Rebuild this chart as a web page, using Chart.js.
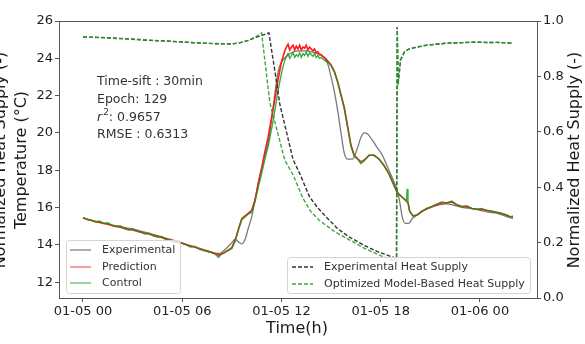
<!DOCTYPE html>
<html>
<head>
<meta charset="utf-8">
<title>Temperature and heat supply</title>
<script src="https://cdn.jsdelivr.net/npm/chart.js"></script>
<style>
    html, body { margin: 0; padding: 0; background: #fff; }
    #wrap { position: relative; width: 585px; height: 344px; }
</style>
</head>
<body>
<div id="wrap"><canvas id="tempChart"></canvas></div>

<script>
// x values are hours counted from 01-05 00:00
var tickHours = [0, 6, 12, 18, 24];
var tickLabels = ['01-05 00', '01-05 06', '01-05 12', '01-05 18', '01-06 00'];
var tempTicks = [12, 14, 16, 18, 20, 22, 24, 26];
var heatTicks = [0, 0.2, 0.4, 0.6, 0.8, 1.0];

// experimental temperature (grey)
var expHours = [0, 0.5, 1, 1.5, 2, 2.5, 3, 3.5, 4, 4.5, 5, 5.5, 6, 6.5, 7, 7.5, 8, 8.25, 8.5, 8.75,
    9, 9.2, 9.4, 9.6, 9.8, 10, 10.2, 10.4, 10.6, 10.8, 11, 11.2, 11.4, 11.6, 11.8, 12, 12.3, 12.6, 13, 13.5,
    14, 14.5, 14.8, 15, 15.2, 15.4, 15.6, 15.8, 16, 16.3, 16.6, 16.8, 17, 17.2, 17.5, 17.8, 18.1, 18.4, 18.7,
    19, 19.15, 19.3, 19.5, 19.7, 19.9, 20.2, 20.5, 21, 21.6, 22, 22.5, 23, 23.5, 24, 24.5, 25, 25.5, 26];
var expTemp = [15.45, 15.33, 15.22, 15.12, 15.02, 14.93, 14.86, 14.74, 14.62, 14.5, 14.36, 14.24, 14.1, 13.96, 13.82, 13.7, 13.56, 13.54, 13.68, 13.88,
    14.12, 14.3, 14.16, 14.05, 14.3, 14.9, 15.5, 16.4, 17.3, 18.1, 18.8, 19.5, 20.7, 22.1, 23.3, 23.8, 24.1, 24.3, 24.4, 24.4,
    24.3, 24.1, 23.7, 23.0, 22.2, 21.2, 20.0, 18.9, 18.6, 18.6, 19.2, 19.75, 20.0, 19.95, 19.6, 19.2, 18.8, 18.2, 17.6,
    16.9, 16.3, 15.5, 15.15, 15.15, 15.4, 15.6, 15.8, 16.0, 16.15, 16.2, 16.1, 16.0, 15.95, 15.85, 15.75, 15.7, 15.55, 15.4];

// model prediction (red) and control (green) share one time grid
var ctlHours = [0, 0.25, 0.5, 0.75, 1, 1.25, 1.5, 1.75, 2, 2.25, 2.5, 2.75, 3, 3.25, 3.5, 3.75, 4, 4.25, 4.5, 4.75,
    5, 5.25, 5.5, 5.75, 6, 6.25, 6.5, 6.75, 7, 7.25, 7.5, 7.75, 8, 8.2, 8.35, 8.5, 8.75, 9, 9.2, 9.4,
    9.6, 9.8, 10, 10.2, 10.4, 10.6, 10.8, 11, 11.2, 11.4, 11.6, 11.8, 12, 12.2, 12.3, 12.4, 12.5, 12.6, 12.7, 12.8, 12.9, 13, 13.1, 13.2, 13.3, 13.4,
    13.5, 13.6, 13.7, 13.8, 13.9, 14, 14.1, 14.2, 14.3, 14.4, 14.5, 14.6, 14.8, 15, 15.2, 15.4, 15.6, 15.8, 16, 16.2, 16.4, 16.6, 16.8, 17, 17.3, 17.6,
    17.9, 18.2, 18.5, 18.8, 19, 19.3, 19.55, 19.6, 19.65, 19.75, 19.95, 20.2, 20.5, 20.8, 21.1, 21.4, 21.7, 22, 22.3, 22.6,
    22.9, 23.2, 23.5, 23.8, 24.1, 24.4, 24.7, 25, 25.3, 25.6, 25.8, 26];
var ctlTemp = [15.45, 15.38, 15.32, 15.22, 15.28, 15.15, 15.18, 15.05, 14.98, 15.02, 14.88, 14.8, 14.85, 14.72, 14.68, 14.58, 14.62, 14.48, 14.42, 14.45,
    14.3, 14.22, 14.18, 14.12, 14.08, 14.0, 13.88, 13.92, 13.78, 13.7, 13.65, 13.58, 13.5, 13.32, 13.5, 13.55, 13.68, 13.8, 14.2, 14.8,
    15.35, 15.5, 15.65, 15.75, 16.3, 17.1, 17.8, 18.6, 19.3, 20.2, 21.2, 22.3, 23.2, 23.9, 24.1, 24.25, 24.0, 24.15, 24.3, 24.05, 24.2, 24.1, 24.3, 24.05, 24.25, 24.15,
    24.35, 24.1, 24.3, 24.2, 24.1, 24.25, 24.05, 24.15, 24.0, 24.05, 23.95, 23.9, 23.8, 23.6, 23.25, 22.7, 22.0, 21.3, 20.3, 19.3, 18.75, 18.6, 18.35, 18.5, 18.8, 18.8,
    18.6, 18.25, 17.8, 17.2, 16.8, 16.55, 16.35, 17.0, 16.3, 15.8, 15.55, 15.6, 15.8, 15.95, 16.05, 16.2, 16.3, 16.25, 16.35, 16.15,
    16.05, 16.1, 15.95, 15.9, 15.95, 15.85, 15.8, 15.75, 15.7, 15.6, 15.5, 15.55];
var predTemp = [15.45, 15.36, 15.3, 15.24, 15.2, 15.14, 15.1, 15.04, 14.99, 14.94, 14.88, 14.82, 14.8, 14.74, 14.68, 14.62, 14.58, 14.5, 14.45, 14.4,
    14.32, 14.25, 14.2, 14.14, 14.08, 14.0, 13.92, 13.88, 13.8, 13.72, 13.66, 13.6, 13.52, 13.45, 13.5, 13.56, 13.7, 13.85, 14.25, 14.85,
    15.4, 15.55, 15.7, 15.85, 16.4, 17.3, 18.1, 19.0, 19.8, 20.8, 21.8, 22.9, 23.8, 24.4, 24.6, 24.75, 24.45, 24.6, 24.7, 24.45, 24.65, 24.5, 24.7, 24.45, 24.6, 24.55,
    24.7, 24.45, 24.6, 24.5, 24.4, 24.5, 24.3, 24.35, 24.2, 24.2, 24.1, 24.05, 23.85, 23.65, 23.3, 22.75, 22.05, 21.35, 20.35, 19.35, 18.8, 18.62, 18.45, 18.55, 18.8, 18.8,
    18.6, 18.25, 17.8, 17.2, 16.8, 16.55, 16.35, 16.3, 16.25, 15.8, 15.55, 15.6, 15.8, 15.95, 16.05, 16.15, 16.25, 16.25, 16.3, 16.15,
    16.05, 16.05, 15.95, 15.92, 15.9, 15.85, 15.8, 15.75, 15.68, 15.6, 15.52, 15.5];

// normalized heat supply, right axis
var heatExpHours = [0, 1, 2, 3, 4, 5, 6, 7, 8, 9, 9.5, 10, 10.5, 11, 11.24, 11.6, 11.9, 12.3, 12.7, 13.1,
    13.7, 14.2, 14.75, 15.4, 16.1, 17, 17.9, 18.4, 18.95, 19.0, 19.05, 19.2, 19.45, 19.75, 20.3, 20.8, 21.5, 22, 23, 23.8,
    24.5, 25, 25.5, 26];
var heatExp = [0.942, 0.941, 0.938, 0.934, 0.93, 0.928, 0.924, 0.921, 0.918, 0.917, 0.922, 0.93, 0.942, 0.952, 0.957, 0.82, 0.70, 0.60, 0.50, 0.45,
    0.365, 0.325, 0.29, 0.25, 0.22, 0.19, 0.165, 0.155, 0.142, 0.978, 0.77, 0.86, 0.89, 0.90, 0.907, 0.913, 0.917, 0.92, 0.922, 0.924,
    0.922, 0.923, 0.921, 0.92];
var heatOptHours = [0, 1, 2, 3, 4, 5, 6, 7, 8, 9, 9.5, 10, 10.5, 10.8, 11.3, 11.8, 12.2, 12.7, 13.3, 13.8,
    14.3, 15.2, 16.1, 17, 17.9, 18.5, 18.97, 19.0, 19.05, 19.2, 19.45, 19.75, 20.3, 20.8, 21.5, 22, 23, 23.8, 24.5, 25,
    25.5, 26];
var heatOpt = [0.942, 0.94, 0.937, 0.935, 0.931, 0.927, 0.925, 0.92, 0.919, 0.917, 0.921, 0.93, 0.945, 0.957, 0.704, 0.59, 0.498, 0.445, 0.36, 0.31,
    0.28, 0.24, 0.21, 0.18, 0.155, 0.142, 0.13, 0.978, 0.77, 0.86, 0.89, 0.90, 0.907, 0.913, 0.917, 0.92, 0.922, 0.924, 0.922, 0.923,
    0.921, 0.92];

function pts(xs, ys) {
    return xs.map(function (x, i) { return { x: x, y: ys[i] }; });
}

Chart.defaults.font.family = 'DejaVu Sans';
Chart.defaults.color = '#222';

// axis titles, the text box and the two legends
var extras = {
    id: 'extras',
    afterDraw: function (chart) {
        var ctx = chart.ctx, a = chart.chartArea;
        ctx.save();
        ctx.strokeStyle = '#555';
        ctx.lineWidth = 1;
        ctx.beginPath();
        ctx.moveTo(a.left, a.top + 0.5);
        ctx.lineTo(a.right, a.top + 0.5);
        ctx.stroke();

        ctx.fillStyle = '#1a1a1a';
        ctx.font = '16px DejaVu Sans';
        ctx.textAlign = 'center';
        ctx.textBaseline = 'middle';
        ctx.fillText('Time(h)', 297, 329);

        ctx.save();
        ctx.translate(22, 160);
        ctx.rotate(-Math.PI / 2);
        ctx.fillText('Temperature (°C)', 0, 0);
        ctx.restore();
        // clipped copy of the right title, as in the source figure
        ctx.save();
        ctx.translate(1, 160);
        ctx.rotate(-Math.PI / 2);
        ctx.fillText('Normalized Heat Supply (-)', 0, 0);
        ctx.restore();
        ctx.save();
        ctx.translate(575, 160);
        ctx.rotate(-Math.PI / 2);
        ctx.fillText('Normalized Heat Supply (-)', 0, 0);
        ctx.restore();

        // metrics text
        ctx.textAlign = 'left';
        ctx.fillStyle = '#333';
        ctx.font = '12.5px DejaVu Sans';
        ctx.fillText('Time-sift : 30min', 97, 82);
        ctx.fillText('Epoch: 129', 97, 100);
        ctx.font = 'italic 12.5px DejaVu Sans';
        ctx.fillText('r', 97, 118);
        var rw = ctx.measureText('r').width;
        ctx.font = '9px DejaVu Sans';
        ctx.fillText('2', 97 + rw + 1, 113);
        var sw = ctx.measureText('2').width;
        ctx.font = '12.5px DejaVu Sans';
        ctx.fillText(': 0.9657', 97 + rw + sw + 1, 118);
        ctx.fillText('RMSE : 0.6313', 97, 135);

        // legends
        function box(x, y, w, h) {
            ctx.beginPath();
            ctx.roundRect(x + 0.5, y + 0.5, w, h, 3);
            ctx.fillStyle = 'rgba(255,255,255,0.8)';
            ctx.fill();
            ctx.strokeStyle = '#d4d4d4';
            ctx.lineWidth = 1;
            ctx.stroke();
        }
        function item(x, y, label, color, dash) {
            ctx.beginPath();
            ctx.setLineDash(dash || []);
            ctx.strokeStyle = color;
            ctx.lineWidth = 1.4;
            ctx.moveTo(x, y);
            ctx.lineTo(x + 21, y);
            ctx.stroke();
            ctx.setLineDash([]);
            ctx.fillStyle = '#333';
            ctx.font = '11px DejaVu Sans';
            ctx.textAlign = 'left';
            ctx.textBaseline = 'middle';
            ctx.fillText(label, x + 32, y + 0.5);
        }
        var ds = chart.data.datasets;
        box(66, 240, 114, 53);
        item(70, 250, ds[4].label, '#8a8a8a');
        item(70, 267, ds[3].label, '#ff7070');
        item(70, 283, ds[2].label, '#6cc06c');
        box(287, 257, 243, 36);
        item(292, 267, ds[1].label, '#333', [4, 2]);
        item(292, 284, ds[0].label, '#3aaa3a', [4, 2]);
        ctx.restore();
    }
};

new Chart(document.getElementById('tempChart'), {
    type: 'line',
    data: {
        datasets: [
            {
                label: 'Optimized Model-Based Heat Supply', yAxisID: 'y2', order: 0,
                data: pts(heatOptHours, heatOpt), borderColor: 'rgba(40,160,40,0.9)', borderWidth: 1.4,
                borderDash: [4, 2], pointRadius: 0, tension: 0
            },
            {
                label: 'Experimental Heat Supply', yAxisID: 'y2', order: 1,
                data: pts(heatExpHours, heatExp), borderColor: '#333', borderWidth: 1.4,
                borderDash: [4, 2], pointRadius: 0, tension: 0
            },
            {
                label: 'Control', yAxisID: 'y', order: 2,
                data: pts(ctlHours, ctlTemp), borderColor: 'rgba(20,150,20,0.8)', borderWidth: 1.4,
                pointRadius: 0, tension: 0
            },
            {
                label: 'Prediction', yAxisID: 'y', order: 3,
                data: pts(ctlHours, predTemp), borderColor: '#ff1a1a', borderWidth: 1.6,
                pointRadius: 0, tension: 0
            },
            {
                label: 'Experimental', yAxisID: 'y', order: 4,
                data: pts(expHours, expTemp), borderColor: '#7a7a7a', borderWidth: 1.3,
                pointRadius: 0, cubicInterpolationMode: 'monotone'
            }
        ]
    },
    options: {
        responsive: true,
        maintainAspectRatio: false,
        animation: false,
        layout: { padding: { top: 21, left: 0, right: 0, bottom: 0 } },
        plugins: { legend: { display: false }, tooltip: { enabled: false } },
        scales: {
            x: {
                type: 'linear', min: -1.45, max: 27.45,
                afterBuildTicks: function (s) { s.ticks = tickHours.map(function (v) { return { value: v }; }); },
                afterFit: function (s) { s.height = 46; },
                ticks: {
                    font: { size: 13 }, padding: 2, maxRotation: 0, autoSkip: false,
                    callback: function (v) { return tickLabels[tickHours.indexOf(v)]; }
                },
                grid: { drawOnChartArea: false, tickLength: 4, color: '#555' },
                border: { color: '#555' }
            },
            y: {
                position: 'left', min: 11.15, max: 26,
                afterBuildTicks: function (s) { s.ticks = tempTicks.map(function (v) { return { value: v }; }); },
                afterFit: function (s) { s.width = 59; },
                ticks: { font: { size: 13 }, padding: 2 },
                grid: { drawOnChartArea: false, tickLength: 4, color: '#555' },
                border: { color: '#555' }
            },
            y2: {
                position: 'right', min: 0, max: 1,
                afterBuildTicks: function (s) { s.ticks = heatTicks.map(function (v) { return { value: v }; }); },
                afterFit: function (s) { s.width = 48; },
                ticks: { font: { size: 13 }, padding: 2, callback: function (v) { return v.toFixed(1); } },
                grid: { drawOnChartArea: false, tickLength: 4, color: '#555' },
                border: { color: '#555' }
            }
        }
    },
    plugins: [extras]
});
</script>
</body>
</html>
